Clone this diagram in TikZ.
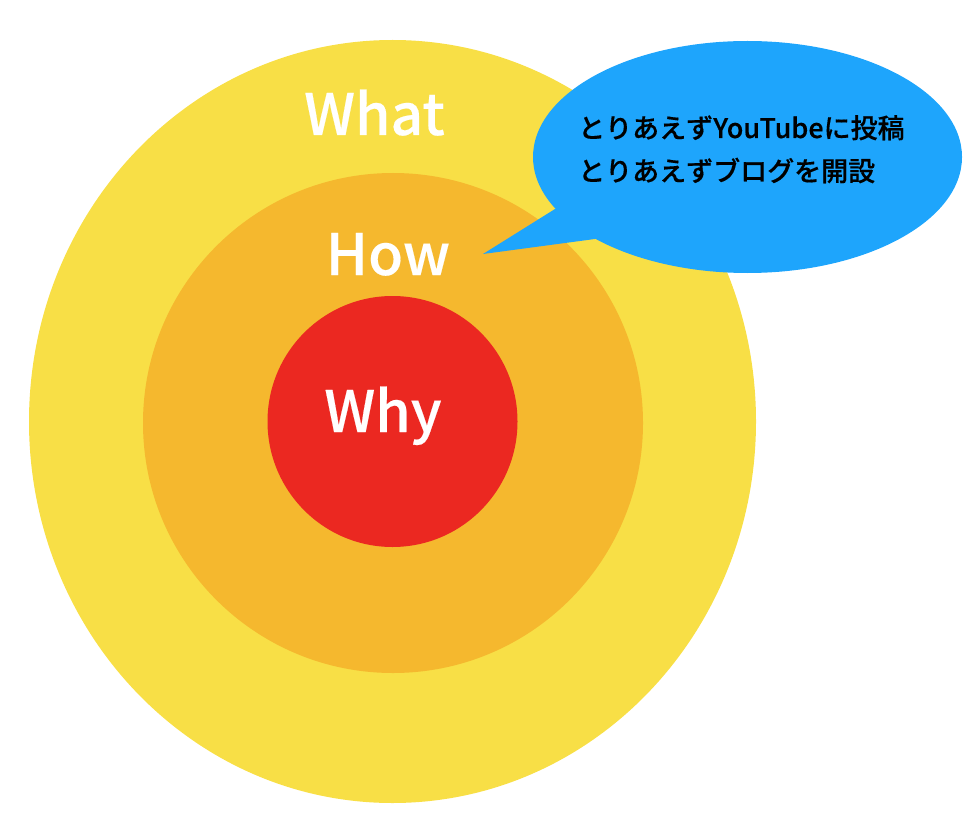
\documentclass[tikz,border=0pt]{standalone}
\usepackage{fontspec}
\newfontfamily\jpm{Noto Sans CJK JP}[UprightFont=* Medium, FakeBold=0.35]
\newfontfamily\jpl{Noto Sans CJK JP}[UprightFont=* Medium, FakeBold=0.3]
\definecolor{cyel}{RGB}{248,223,70}
\definecolor{corg}{RGB}{245,184,46}
\definecolor{cred}{RGB}{235,40,33}
\definecolor{cblue}{RGB}{30,165,252}
\begin{document}
\begin{tikzpicture}[x=1pt,y=-1pt,
  lbl/.style={text=white,font=\jpl\fontsize{57}{57}\selectfont,inner sep=0pt,anchor=base},
  bubtext/.style={text=black,font=\jpm\fontsize{27}{27}\selectfont,inner sep=0pt,anchor=base west}]
\useasboundingbox (0,0) rectangle (968,834);
\fill[cyel] (392.5,421.5) ellipse [x radius=363.5pt, y radius=381.5pt];
\fill[corg] (393,423) ellipse [x radius=250pt, y radius=250pt];
\fill[cred] (392.5,421.5) ellipse [x radius=125pt, y radius=125.5pt];
\node[lbl] (what) at (374.5,135) {What};
\node[lbl] (how) at (388,275) {How};
\node[lbl] (why) at (383,432) {Why};
\fill[cblue] (747.5,157) ellipse [x radius=214.5pt, y radius=116pt];
\coordinate (tip) at (483,254);
\fill[cblue] (tip) -- (575,196.5) -- (612,236.7) -- cycle;
\node[bubtext] (l1) at (578,138) {とりあえずYouTubeに投稿};
\node[bubtext] (l2) at (578,181) {とりあえずブログを開設};
\end{tikzpicture}
\end{document}
